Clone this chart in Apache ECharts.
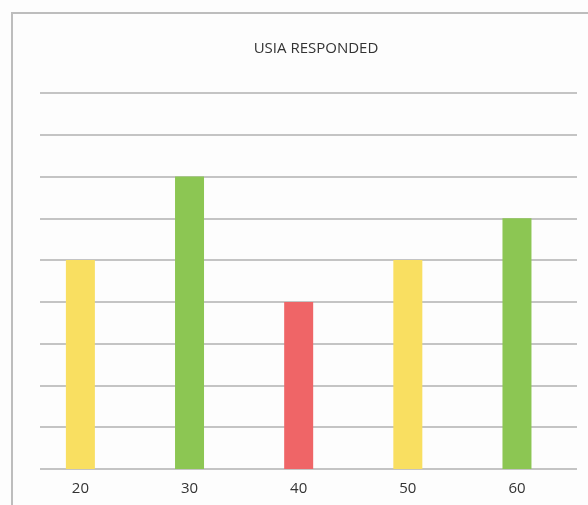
<!DOCTYPE html>
<html>
<head>
<meta charset="utf-8">
<style>
  html, body { margin: 0; padding: 0; background: #fdfdfd; }
  #chart { width: 588px; height: 505px; }
</style>
<script src="https://cdn.jsdelivr.net/npm/echarts@6/dist/echarts.min.js"></script>
</head>
<body>
<div id="chart"></div>
<script>
var categories = [20, 30, 40, 50, 60];
var values = [5, 7, 4, 5, 6];
var barColors = ['#f9df61', '#8cc653', '#ef6567', '#f9df61', '#8cc653'];

var chart = echarts.init(document.getElementById('chart'));

var seriesData = categories.map(function (c, i) {
	return {
		value: [c, values[i]],
		itemStyle: { color: barColors[i] }
	};
});

var option = {
	backgroundColor: '#fdfdfd',
	animation: false,
	title: {
		text: 'USIA RESPONDED',
		left: 311,
		top: 36,
		textAlign: 'center',
		textStyle: {
			color: '#333',
			fontFamily: 'Open Sans',
			fontSize: 15,
			fontWeight: 'normal'
		}
	},
	graphic: [
		{
			type: 'polyline',
			shape: { points: [[12, 505], [12, 13], [588, 13]] },
			style: { stroke: '#bdbdbd', lineWidth: 2, fill: null },
			silent: true
		}
	],
	grid: {
		left: 40,
		right: 11,
		top: 93,
		bottom: 36
	},
	xAxis: {
		type: 'value',
		min: 16.3,
		max: 65.5,
		splitLine: { show: false },
		axisLine: { show: false },
		axisTick: { show: false },
		axisLabel: {
			customValues: categories,
			color: '#333',
			fontFamily: 'Open Sans',
			fontSize: 15,
			margin: 12
		}
	},
	yAxis: {
		type: 'value',
		min: 0,
		max: 9,
		interval: 1,
		axisLine: { show: false },
		axisTick: { show: false },
		axisLabel: { show: false },
		splitLine: {
			lineStyle: { color: '#b0b0b0', width: 1.5 }
		}
	},
	series: [
		{
			type: 'bar',
			barWidth: 29,
			data: seriesData,
			z: 3
		}
	]
};
chart.setOption(option);
</script>
</body>
</html>
